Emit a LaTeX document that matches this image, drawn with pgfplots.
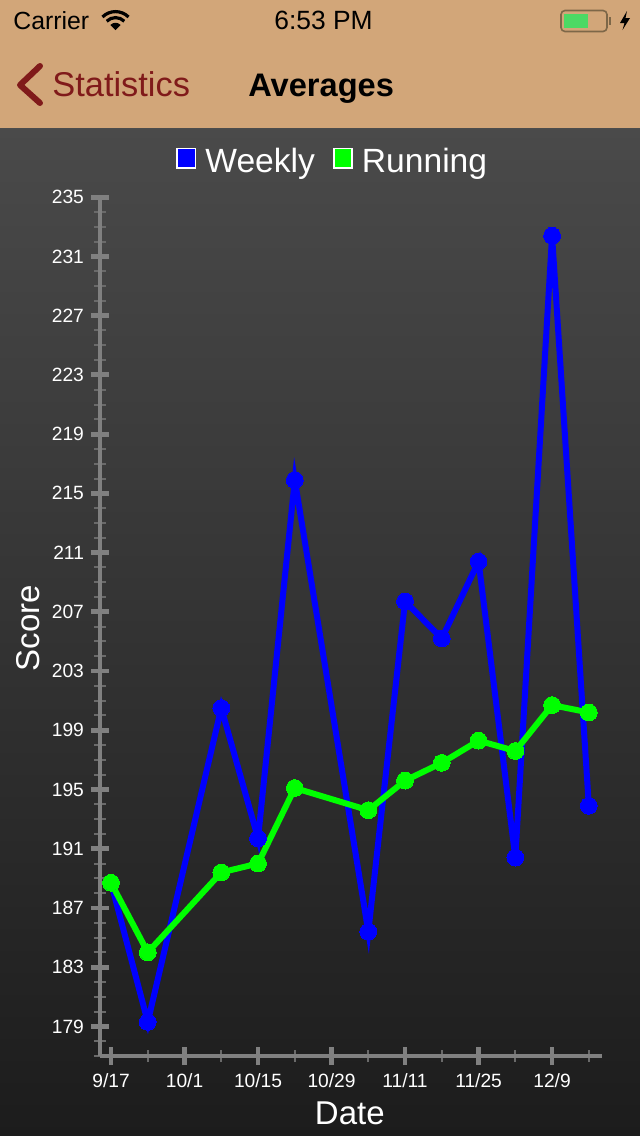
\documentclass[border=0pt]{standalone}
\usepackage{fontspec}
\setmainfont{Liberation Sans}
\usepackage{pgfplots}
\pgfplotsset{compat=1.18}
\definecolor{header}{HTML}{D2A679}
\definecolor{backred}{HTML}{801A1A}
\definecolor{axisgray}{HTML}{808080}
\definecolor{minorgray}{HTML}{6A6A6A}
\definecolor{battery}{HTML}{4CD964}
\definecolor{batteryedge}{HTML}{7D6748}

\begin{document}
\begin{tikzpicture}
% page drawn in reference pixels (1 px = 0.5 pt)
\begin{scope}[x=0.5pt,y=-0.5pt]
\useasboundingbox (0,0) rectangle (640,1136);
\fill[header] (0,0) rectangle (640,128);
\shade[top color=black!71,bottom color=black!89,shading angle=0] (0,128) rectangle (640,1136);
\draw[black!70,line width=0.4pt] (0,128) -- (640,128);
\node[anchor=base west,inner sep=0,font=\fontsize{12.4}{14}\selectfont] at (13,29) {Carrier};
\node[anchor=base,inner sep=0,font=\fontsize{13.2}{14}\selectfont] at (323.5,29) {6:53 PM};
\node[anchor=base west,inner sep=0,font=\fontsize{17.2}{20}\selectfont,text=backred] at (52,96) {Statistics};
\node[anchor=base west,inner sep=0,font=\bfseries\fontsize{16.3}{20}\selectfont] at (248,96) {Averages};
\draw[backred,line width=3pt,line cap=round,line join=round] (40,66) -- (20,85) -- (40,103);
% battery
\draw[batteryedge,line width=0.8pt,rounded corners=2pt] (561,10.5) rectangle (607,31.5);
\fill[batteryedge] (609,17) rectangle (611,25);
\fill[battery] (564,14) rectangle (588,28);
\fill (627,11) -- (620,23) -- (624.5,23) -- (622.5,30) -- (630,18) -- (625.5,18) -- cycle;
\end{scope}
% wifi
\begin{scope}[shift={(57.75pt,-15pt)}]
\fill (0,0) -- (135:3.6pt) arc[start angle=135,end angle=45,radius=3.6pt] -- cycle;
\draw[line width=1.6pt] (135:6.2pt) arc[start angle=135,end angle=45,radius=6.2pt];
\draw[line width=1.6pt] (135:9.2pt) arc[start angle=135,end angle=45,radius=9.2pt];
\end{scope}

\begin{axis}[
    at={(50pt,-528pt)},
    anchor=south west,
    scale only axis,
    width=250.85pt,
    height=429.4pt,
    xmin=-0.3, xmax=13.35,
    ymin=177, ymax=235,
    axis lines=left,
    axis line style={-,axisgray,line width=2pt},
    xtick={0,2,4,6,8,10,12},
    xticklabels={9/17,10/1,10/15,10/29,11/11,11/25,12/9},
    minor xtick={1,3,5,7,9,11,13},
    ytick={179,183,187,191,195,199,203,207,211,215,219,223,227,231,235},
    minor ytick={177,178,180,181,182,184,185,186,188,189,190,192,193,194,196,197,198,200,201,202,204,205,206,208,209,210,212,213,214,216,217,218,220,221,222,224,225,226,228,229,230,232,233,234},
    tick align=center,
    major tick length=9pt,
    minor tick length=6pt,
    tick style={axisgray},
    every major tick/.append style={axisgray,line width=2.4pt},
    every minor tick/.append style={minorgray,line width=1pt},
    /pgf/number format/assume math mode=true,
    /pgf/number format/1000 sep={},
    tick label style={text=white,font=\fontsize{9.6}{11}\selectfont},
    xticklabel style={yshift=-1pt},
    xlabel={Date},
    ylabel={Score},
    label style={text=white,font=\fontsize{16.5}{19}\selectfont},
    xlabel style={yshift=0pt,xshift=-0.5pt},
    ylabel style={yshift=-1pt,xshift=-0.7pt},
    legend columns=2,
    legend cell align=left,
    legend style={at={(0.4660,1.0407)},anchor=center,draw=none,fill=none,text=white,
        font=\fontsize{16.8}{19}\selectfont,inner sep=0pt,
        /tikz/every odd column/.append style={column sep=2.5pt},
        /tikz/every even column/.append style={column sep=7pt}},
]
\addplot[blue,line width=3pt,mark=*,mark size=4.2pt,mark options={solid,fill=blue,draw=blue,line width=0pt},
    legend image code/.code={\draw[white,line width=0.8pt,fill=blue] (0pt,-2.8pt) rectangle (9.2pt,6.8pt);}]
  coordinates {(0,188.7) (1,179.3) (3,200.5) (4,191.7) (5,215.9) (7,185.4) (8,207.7) (9,205.2) (10,210.4) (11,190.4) (12,232.4) (13,193.9)};
\addplot[green,line width=3pt,mark=*,mark size=4.2pt,mark options={solid,fill=green,draw=green,line width=0pt},
    legend image code/.code={\draw[white,line width=0.8pt,fill=green] (0pt,-2.8pt) rectangle (9.2pt,6.8pt);}]
  coordinates {(0,188.7) (1,184.0) (3,189.4) (4,190.0) (5,195.1) (7,193.6) (8,195.6) (9,196.8) (10,198.3) (11,197.6) (12,200.7) (13,200.2)};
\legend{Weekly,Running}
\end{axis}
\end{tikzpicture}
\end{document}
